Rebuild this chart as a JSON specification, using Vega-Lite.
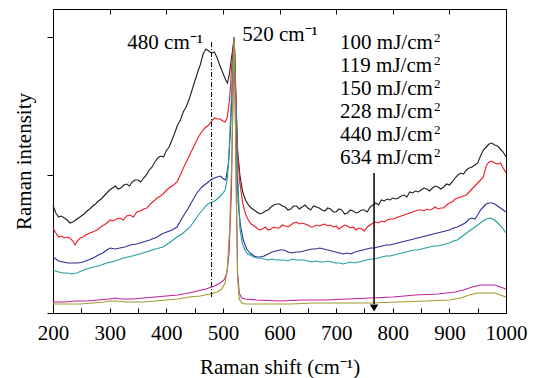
{
"$schema":"https://vega.github.io/schema/vega-lite/v6.json",
"width":453,"height":304,
"autosize":{"type":"none"},
"padding":{"left":53,"top":9,"right":28,"bottom":65},
"config":{"font":"serif","view":{"stroke":"black","strokeWidth":1},
"axis":{"domainColor":"black","tickColor":"black","labelColor":"black","titleColor":"black","labelFont":"serif","titleFont":"serif","labelFontSize":21,"titleFontSize":21,"titleFontWeight":"normal","grid":false}},
"resolve":{"axis":{"x":"independent","y":"independent"}},
"layer":[
{"data":{"values":[
{"s":"100","x":200,"y":108},{"s":"100","x":205,"y":100},{"s":"100","x":210,"y":96},{"s":"100","x":215,"y":97},{"s":"100","x":220,"y":95},{"s":"100","x":225,"y":93},{"s":"100","x":230,"y":90},{"s":"100","x":235,"y":91},{"s":"100","x":240,"y":93},{"s":"100","x":245,"y":95},{"s":"100","x":250,"y":97},{"s":"100","x":255,"y":99},{"s":"100","x":260,"y":102},{"s":"100","x":265,"y":104},{"s":"100","x":270,"y":107},{"s":"100","x":275,"y":109},{"s":"100","x":280,"y":112},{"s":"100","x":285,"y":114},{"s":"100","x":290,"y":117},{"s":"100","x":295,"y":120},{"s":"100","x":300,"y":123},{"s":"100","x":305,"y":125},{"s":"100","x":310,"y":127},{"s":"100","x":315,"y":124},{"s":"100","x":320,"y":125},{"s":"100","x":325,"y":128},{"s":"100","x":330,"y":129},{"s":"100","x":335,"y":127},{"s":"100","x":340,"y":131},{"s":"100","x":345,"y":133},{"s":"100","x":350,"y":133},{"s":"100","x":355,"y":131},{"s":"100","x":360,"y":135},{"s":"100","x":365,"y":138},{"s":"100","x":370,"y":143},{"s":"100","x":375,"y":146},{"s":"100","x":380,"y":151},{"s":"100","x":385,"y":155},{"s":"100","x":390,"y":157},{"s":"100","x":395,"y":156},{"s":"100","x":400,"y":162},{"s":"100","x":405,"y":166},{"s":"100","x":410,"y":173},{"s":"100","x":415,"y":180},{"s":"100","x":420,"y":188},{"s":"100","x":425,"y":193},{"s":"100","x":430,"y":201},{"s":"100","x":435,"y":206},{"s":"100","x":440,"y":213},{"s":"100","x":445,"y":222},{"s":"100","x":450,"y":231},{"s":"100","x":455,"y":240},{"s":"100","x":460,"y":248},{"s":"100","x":465,"y":259},{"s":"100","x":470,"y":264},{"s":"100","x":475,"y":262},{"s":"100","x":480,"y":260},{"s":"100","x":485,"y":261},{"s":"100","x":490,"y":255},{"s":"100","x":495,"y":247},{"s":"100","x":500,"y":240},{"s":"100","x":505,"y":233},{"s":"100","x":508,"y":230},{"s":"100","x":511,"y":237},{"s":"100","x":514,"y":250},{"s":"100","x":517,"y":262},{"s":"100","x":520,"y":276},{"s":"100","x":523,"y":213},{"s":"100","x":526,"y":163},{"s":"100","x":530,"y":138},{"s":"100","x":535,"y":121},{"s":"100","x":540,"y":113},{"s":"100","x":545,"y":108},{"s":"100","x":550,"y":105},{"s":"100","x":555,"y":103},{"s":"100","x":560,"y":101},{"s":"100","x":565,"y":99},{"s":"100","x":570,"y":100},{"s":"100","x":575,"y":102},{"s":"100","x":580,"y":103},{"s":"100","x":585,"y":106},{"s":"100","x":590,"y":108},{"s":"100","x":595,"y":109},{"s":"100","x":600,"y":109},{"s":"100","x":605,"y":107},{"s":"100","x":610,"y":106},{"s":"100","x":615,"y":103},{"s":"100","x":620,"y":104},{"s":"100","x":625,"y":107},{"s":"100","x":630,"y":107},{"s":"100","x":635,"y":104},{"s":"100","x":640,"y":106},{"s":"100","x":645,"y":108},{"s":"100","x":650,"y":105},{"s":"100","x":655,"y":103},{"s":"100","x":660,"y":107},{"s":"100","x":665,"y":106},{"s":"100","x":670,"y":105},{"s":"100","x":675,"y":103},{"s":"100","x":680,"y":102},{"s":"100","x":685,"y":105},{"s":"100","x":690,"y":104},{"s":"100","x":695,"y":101},{"s":"100","x":700,"y":101},{"s":"100","x":705,"y":104},{"s":"100","x":710,"y":103},{"s":"100","x":715,"y":99},{"s":"100","x":720,"y":100},{"s":"100","x":725,"y":103},{"s":"100","x":730,"y":102},{"s":"100","x":735,"y":100},{"s":"100","x":740,"y":101},{"s":"100","x":745,"y":103},{"s":"100","x":750,"y":103},{"s":"100","x":755,"y":101},{"s":"100","x":760,"y":106},{"s":"100","x":765,"y":108},{"s":"100","x":770,"y":110},{"s":"100","x":775,"y":108},{"s":"100","x":780,"y":113},{"s":"100","x":785,"y":112},{"s":"100","x":790,"y":114},{"s":"100","x":795,"y":113},{"s":"100","x":800,"y":115},{"s":"100","x":805,"y":114},{"s":"100","x":810,"y":115},{"s":"100","x":815,"y":117},{"s":"100","x":820,"y":118},{"s":"100","x":825,"y":116},{"s":"100","x":830,"y":121},{"s":"100","x":835,"y":120},{"s":"100","x":840,"y":122},{"s":"100","x":845,"y":121},{"s":"100","x":850,"y":123},{"s":"100","x":855,"y":125},{"s":"100","x":860,"y":124},{"s":"100","x":865,"y":122},{"s":"100","x":870,"y":125},{"s":"100","x":875,"y":127},{"s":"100","x":880,"y":126},{"s":"100","x":885,"y":124},{"s":"100","x":890,"y":126},{"s":"100","x":895,"y":129},{"s":"100","x":900,"y":128},{"s":"100","x":905,"y":131},{"s":"100","x":910,"y":135},{"s":"100","x":915,"y":138},{"s":"100","x":920,"y":140},{"s":"100","x":925,"y":139},{"s":"100","x":930,"y":143},{"s":"100","x":935,"y":145},{"s":"100","x":940,"y":146},{"s":"100","x":945,"y":148},{"s":"100","x":950,"y":150},{"s":"100","x":955,"y":157},{"s":"100","x":960,"y":163},{"s":"100","x":965,"y":166},{"s":"100","x":970,"y":169},{"s":"100","x":975,"y":170},{"s":"100","x":980,"y":168},{"s":"100","x":985,"y":167},{"s":"100","x":990,"y":164},{"s":"100","x":995,"y":161},{"s":"100","x":1000,"y":156},
{"s":"119","x":200,"y":85},{"s":"119","x":205,"y":80},{"s":"119","x":210,"y":76},{"s":"119","x":215,"y":77},{"s":"119","x":220,"y":75},{"s":"119","x":225,"y":76},{"s":"119","x":230,"y":75},{"s":"119","x":235,"y":72},{"s":"119","x":239,"y":68},{"s":"119","x":243,"y":72},{"s":"119","x":248,"y":75},{"s":"119","x":253,"y":76},{"s":"119","x":258,"y":78},{"s":"119","x":265,"y":80},{"s":"119","x":270,"y":81},{"s":"119","x":278,"y":83},{"s":"119","x":284,"y":86},{"s":"119","x":290,"y":88},{"s":"119","x":295,"y":90},{"s":"119","x":301,"y":93},{"s":"119","x":306,"y":92},{"s":"119","x":312,"y":94},{"s":"119","x":318,"y":95},{"s":"119","x":324,"y":93},{"s":"119","x":330,"y":97},{"s":"119","x":336,"y":98},{"s":"119","x":342,"y":96},{"s":"119","x":348,"y":101},{"s":"119","x":354,"y":102},{"s":"119","x":360,"y":104},{"s":"119","x":366,"y":105},{"s":"119","x":372,"y":109},{"s":"119","x":378,"y":112},{"s":"119","x":384,"y":115},{"s":"119","x":390,"y":117},{"s":"119","x":396,"y":120},{"s":"119","x":401,"y":123},{"s":"119","x":407,"y":126},{"s":"119","x":413,"y":128},{"s":"119","x":419,"y":131},{"s":"119","x":425,"y":138},{"s":"119","x":431,"y":146},{"s":"119","x":437,"y":153},{"s":"119","x":443,"y":160},{"s":"119","x":449,"y":167},{"s":"119","x":454,"y":173},{"s":"119","x":460,"y":179},{"s":"119","x":465,"y":183},{"s":"119","x":470,"y":186},{"s":"119","x":475,"y":188},{"s":"119","x":480,"y":192},{"s":"119","x":485,"y":195},{"s":"119","x":490,"y":194},{"s":"119","x":495,"y":194},{"s":"119","x":500,"y":192},{"s":"119","x":504,"y":191},{"s":"119","x":508,"y":196},{"s":"119","x":512,"y":215},{"s":"119","x":516,"y":250},{"s":"119","x":520,"y":276},{"s":"119","x":523,"y":220},{"s":"119","x":526,"y":160},{"s":"119","x":530,"y":130},{"s":"119","x":535,"y":110},{"s":"119","x":540,"y":99},{"s":"119","x":545,"y":93},{"s":"119","x":550,"y":89},{"s":"119","x":555,"y":87},{"s":"119","x":560,"y":85},{"s":"119","x":565,"y":83},{"s":"119","x":570,"y":84},{"s":"119","x":575,"y":86},{"s":"119","x":580,"y":83},{"s":"119","x":585,"y":84},{"s":"119","x":590,"y":86},{"s":"119","x":595,"y":85},{"s":"119","x":600,"y":85},{"s":"119","x":605,"y":88},{"s":"119","x":610,"y":87},{"s":"119","x":615,"y":86},{"s":"119","x":620,"y":88},{"s":"119","x":625,"y":90},{"s":"119","x":630,"y":91},{"s":"119","x":635,"y":89},{"s":"119","x":640,"y":90},{"s":"119","x":645,"y":89},{"s":"119","x":650,"y":88},{"s":"119","x":655,"y":86},{"s":"119","x":660,"y":86},{"s":"119","x":665,"y":88},{"s":"119","x":670,"y":87},{"s":"119","x":675,"y":88},{"s":"119","x":680,"y":89},{"s":"119","x":685,"y":87},{"s":"119","x":690,"y":88},{"s":"119","x":695,"y":86},{"s":"119","x":700,"y":87},{"s":"119","x":705,"y":84},{"s":"119","x":710,"y":86},{"s":"119","x":715,"y":88},{"s":"119","x":720,"y":87},{"s":"119","x":725,"y":85},{"s":"119","x":730,"y":86},{"s":"119","x":735,"y":83},{"s":"119","x":740,"y":85},{"s":"119","x":745,"y":84},{"s":"119","x":750,"y":82},{"s":"119","x":755,"y":86},{"s":"119","x":760,"y":88},{"s":"119","x":765,"y":90},{"s":"119","x":770,"y":91},{"s":"119","x":775,"y":90},{"s":"119","x":780,"y":92},{"s":"119","x":785,"y":91},{"s":"119","x":790,"y":93},{"s":"119","x":795,"y":94},{"s":"119","x":800,"y":94},{"s":"119","x":805,"y":95},{"s":"119","x":810,"y":96},{"s":"119","x":815,"y":97},{"s":"119","x":820,"y":98},{"s":"119","x":825,"y":99},{"s":"119","x":830,"y":100},{"s":"119","x":835,"y":101},{"s":"119","x":840,"y":102},{"s":"119","x":845,"y":103},{"s":"119","x":850,"y":103},{"s":"119","x":855,"y":102},{"s":"119","x":860,"y":104},{"s":"119","x":865,"y":103},{"s":"119","x":870,"y":104},{"s":"119","x":875,"y":106},{"s":"119","x":880,"y":104},{"s":"119","x":885,"y":105},{"s":"119","x":890,"y":105},{"s":"119","x":895,"y":108},{"s":"119","x":900,"y":110},{"s":"119","x":905,"y":111},{"s":"119","x":910,"y":114},{"s":"119","x":915,"y":115},{"s":"119","x":920,"y":116},{"s":"119","x":925,"y":117},{"s":"119","x":930,"y":118},{"s":"119","x":935,"y":121},{"s":"119","x":940,"y":124},{"s":"119","x":945,"y":127},{"s":"119","x":950,"y":130},{"s":"119","x":955,"y":133},{"s":"119","x":960,"y":136},{"s":"119","x":965,"y":147},{"s":"119","x":970,"y":151},{"s":"119","x":975,"y":152},{"s":"119","x":980,"y":150},{"s":"119","x":985,"y":149},{"s":"119","x":990,"y":150},{"s":"119","x":995,"y":145},{"s":"119","x":1000,"y":140},
{"s":"150","x":200,"y":56},{"s":"150","x":210,"y":52},{"s":"150","x":218,"y":51},{"s":"150","x":226,"y":50},{"s":"150","x":235,"y":50},{"s":"150","x":244,"y":50},{"s":"150","x":253,"y":51},{"s":"150","x":262,"y":53},{"s":"150","x":271,"y":55},{"s":"150","x":280,"y":58},{"s":"150","x":288,"y":60},{"s":"150","x":295,"y":63},{"s":"150","x":301,"y":65},{"s":"150","x":310,"y":64},{"s":"150","x":318,"y":65},{"s":"150","x":327,"y":66},{"s":"150","x":336,"y":68},{"s":"150","x":348,"y":69},{"s":"150","x":359,"y":71},{"s":"150","x":371,"y":73},{"s":"150","x":384,"y":76},{"s":"150","x":392,"y":79},{"s":"150","x":401,"y":81},{"s":"150","x":410,"y":83},{"s":"150","x":419,"y":86},{"s":"150","x":428,"y":95},{"s":"150","x":437,"y":103},{"s":"150","x":446,"y":112},{"s":"150","x":454,"y":120},{"s":"150","x":463,"y":126},{"s":"150","x":472,"y":130},{"s":"150","x":481,"y":134},{"s":"150","x":490,"y":136},{"s":"150","x":496,"y":137},{"s":"150","x":501,"y":134},{"s":"150","x":505,"y":133},{"s":"150","x":510,"y":150},{"s":"150","x":514,"y":190},{"s":"150","x":517,"y":235},{"s":"150","x":520,"y":276},{"s":"150","x":522,"y":230},{"s":"150","x":524,"y":170},{"s":"150","x":527,"y":110},{"s":"150","x":531,"y":88},{"s":"150","x":536,"y":73},{"s":"150","x":542,"y":64},{"s":"150","x":548,"y":60},{"s":"150","x":555,"y":57},{"s":"150","x":560,"y":56},{"s":"150","x":566,"y":56},{"s":"150","x":573,"y":57},{"s":"150","x":580,"y":59},{"s":"150","x":587,"y":61},{"s":"150","x":594,"y":62},{"s":"150","x":601,"y":63},{"s":"150","x":608,"y":63},{"s":"150","x":615,"y":61},{"s":"150","x":622,"y":60},{"s":"150","x":629,"y":61},{"s":"150","x":636,"y":61},{"s":"150","x":643,"y":62},{"s":"150","x":650,"y":63},{"s":"150","x":657,"y":64},{"s":"150","x":664,"y":64},{"s":"150","x":671,"y":65},{"s":"150","x":678,"y":64},{"s":"150","x":685,"y":63},{"s":"150","x":692,"y":62},{"s":"150","x":699,"y":61},{"s":"150","x":706,"y":60},{"s":"150","x":713,"y":59},{"s":"150","x":719,"y":60},{"s":"150","x":726,"y":59},{"s":"150","x":733,"y":61},{"s":"150","x":740,"y":62},{"s":"150","x":747,"y":63},{"s":"150","x":754,"y":64},{"s":"150","x":761,"y":65},{"s":"150","x":767,"y":65},{"s":"150","x":774,"y":66},{"s":"150","x":781,"y":67},{"s":"150","x":788,"y":68},{"s":"150","x":795,"y":68},{"s":"150","x":802,"y":69},{"s":"150","x":809,"y":70},{"s":"150","x":816,"y":71},{"s":"150","x":823,"y":72},{"s":"150","x":830,"y":73},{"s":"150","x":837,"y":74},{"s":"150","x":844,"y":75},{"s":"150","x":851,"y":76},{"s":"150","x":858,"y":77},{"s":"150","x":865,"y":78},{"s":"150","x":872,"y":79},{"s":"150","x":879,"y":80},{"s":"150","x":886,"y":81},{"s":"150","x":893,"y":82},{"s":"150","x":900,"y":83},{"s":"150","x":907,"y":85},{"s":"150","x":914,"y":86},{"s":"150","x":921,"y":88},{"s":"150","x":928,"y":90},{"s":"150","x":935,"y":94},{"s":"150","x":940,"y":95},{"s":"150","x":945,"y":94},{"s":"150","x":950,"y":98},{"s":"150","x":955,"y":103},{"s":"150","x":960,"y":106},{"s":"150","x":965,"y":109},{"s":"150","x":970,"y":110},{"s":"150","x":975,"y":110},{"s":"150","x":980,"y":109},{"s":"150","x":985,"y":107},{"s":"150","x":990,"y":105},{"s":"150","x":995,"y":103},{"s":"150","x":1000,"y":101},
{"s":"228","x":200,"y":43},{"s":"228","x":210,"y":41},{"s":"228","x":218,"y":40},{"s":"228","x":225,"y":40},{"s":"228","x":233,"y":39},{"s":"228","x":242,"y":40},{"s":"228","x":254,"y":43},{"s":"228","x":265,"y":45},{"s":"228","x":280,"y":47},{"s":"228","x":295,"y":50},{"s":"228","x":310,"y":52},{"s":"228","x":324,"y":55},{"s":"228","x":340,"y":57},{"s":"228","x":359,"y":60},{"s":"228","x":375,"y":63},{"s":"228","x":394,"y":66},{"s":"228","x":405,"y":70},{"s":"228","x":419,"y":76},{"s":"228","x":430,"y":80},{"s":"228","x":442,"y":86},{"s":"228","x":452,"y":94},{"s":"228","x":458,"y":99},{"s":"228","x":464,"y":103},{"s":"228","x":470,"y":107},{"s":"228","x":476,"y":110},{"s":"228","x":482,"y":111},{"s":"228","x":488,"y":113},{"s":"228","x":494,"y":116},{"s":"228","x":499,"y":119},{"s":"228","x":504,"y":123},{"s":"228","x":508,"y":135},{"s":"228","x":511,"y":160},{"s":"228","x":515,"y":215},{"s":"228","x":520,"y":276},{"s":"228","x":523,"y":210},{"s":"228","x":526,"y":140},{"s":"228","x":530,"y":85},{"s":"228","x":534,"y":70},{"s":"228","x":539,"y":63},{"s":"228","x":544,"y":59},{"s":"228","x":548,"y":58},{"s":"228","x":555,"y":56},{"s":"228","x":560,"y":55},{"s":"228","x":566,"y":55},{"s":"228","x":573,"y":54},{"s":"228","x":580,"y":53},{"s":"228","x":587,"y":54},{"s":"228","x":594,"y":53},{"s":"228","x":601,"y":53},{"s":"228","x":608,"y":53},{"s":"228","x":615,"y":52},{"s":"228","x":622,"y":54},{"s":"228","x":629,"y":53},{"s":"228","x":636,"y":53},{"s":"228","x":643,"y":53},{"s":"228","x":650,"y":52},{"s":"228","x":657,"y":51},{"s":"228","x":664,"y":52},{"s":"228","x":671,"y":51},{"s":"228","x":678,"y":51},{"s":"228","x":685,"y":52},{"s":"228","x":692,"y":51},{"s":"228","x":699,"y":50},{"s":"228","x":706,"y":50},{"s":"228","x":713,"y":49},{"s":"228","x":719,"y":50},{"s":"228","x":726,"y":51},{"s":"228","x":733,"y":50},{"s":"228","x":740,"y":51},{"s":"228","x":747,"y":52},{"s":"228","x":754,"y":53},{"s":"228","x":761,"y":54},{"s":"228","x":767,"y":54},{"s":"228","x":774,"y":55},{"s":"228","x":781,"y":56},{"s":"228","x":788,"y":57},{"s":"228","x":795,"y":57},{"s":"228","x":802,"y":58},{"s":"228","x":809,"y":59},{"s":"228","x":816,"y":60},{"s":"228","x":823,"y":61},{"s":"228","x":830,"y":62},{"s":"228","x":837,"y":63},{"s":"228","x":844,"y":63},{"s":"228","x":851,"y":64},{"s":"228","x":858,"y":65},{"s":"228","x":865,"y":66},{"s":"228","x":872,"y":67},{"s":"228","x":879,"y":67},{"s":"228","x":886,"y":68},{"s":"228","x":893,"y":69},{"s":"228","x":900,"y":70},{"s":"228","x":907,"y":72},{"s":"228","x":914,"y":73},{"s":"228","x":921,"y":76},{"s":"228","x":928,"y":79},{"s":"228","x":935,"y":82},{"s":"228","x":943,"y":85},{"s":"228","x":950,"y":88},{"s":"228","x":957,"y":91},{"s":"228","x":965,"y":94},{"s":"228","x":973,"y":95},{"s":"228","x":980,"y":93},{"s":"228","x":987,"y":89},{"s":"228","x":994,"y":85},{"s":"228","x":1000,"y":80},
{"s":"440","x":200,"y":11},{"s":"440","x":220,"y":11},{"s":"440","x":240,"y":12},{"s":"440","x":260,"y":12},{"s":"440","x":280,"y":13},{"s":"440","x":300,"y":14},{"s":"440","x":310,"y":15},{"s":"440","x":320,"y":14},{"s":"440","x":340,"y":14},{"s":"440","x":360,"y":15},{"s":"440","x":380,"y":16},{"s":"440","x":400,"y":17},{"s":"440","x":420,"y":18},{"s":"440","x":440,"y":20},{"s":"440","x":455,"y":22},{"s":"440","x":470,"y":24},{"s":"440","x":485,"y":27},{"s":"440","x":495,"y":30},{"s":"440","x":502,"y":33},{"s":"440","x":507,"y":40},{"s":"440","x":511,"y":60},{"s":"440","x":515,"y":120},{"s":"440","x":518,"y":220},{"s":"440","x":520,"y":276},{"s":"440","x":522,"y":200},{"s":"440","x":524,"y":110},{"s":"440","x":526,"y":40},{"s":"440","x":529,"y":20},{"s":"440","x":533,"y":15},{"s":"440","x":540,"y":14},{"s":"440","x":560,"y":13},{"s":"440","x":600,"y":12},{"s":"440","x":640,"y":13},{"s":"440","x":680,"y":13},{"s":"440","x":720,"y":14},{"s":"440","x":760,"y":15},{"s":"440","x":800,"y":16},{"s":"440","x":840,"y":18},{"s":"440","x":880,"y":19},{"s":"440","x":910,"y":21},{"s":"440","x":925,"y":23},{"s":"440","x":940,"y":26},{"s":"440","x":955,"y":28},{"s":"440","x":970,"y":28},{"s":"440","x":980,"y":28},{"s":"440","x":990,"y":26},{"s":"440","x":1000,"y":24},
{"s":"634","x":200,"y":9},{"s":"634","x":220,"y":9},{"s":"634","x":250,"y":9},{"s":"634","x":270,"y":10},{"s":"634","x":290,"y":11},{"s":"634","x":300,"y":12},{"s":"634","x":310,"y":12},{"s":"634","x":330,"y":11},{"s":"634","x":360,"y":11},{"s":"634","x":400,"y":13},{"s":"634","x":420,"y":14},{"s":"634","x":440,"y":16},{"s":"634","x":460,"y":17},{"s":"634","x":477,"y":19},{"s":"634","x":490,"y":21},{"s":"634","x":498,"y":24},{"s":"634","x":504,"y":30},{"s":"634","x":508,"y":45},{"s":"634","x":512,"y":85},{"s":"634","x":516,"y":160},{"s":"634","x":518,"y":230},{"s":"634","x":520,"y":276},{"s":"634","x":522,"y":200},{"s":"634","x":524,"y":110},{"s":"634","x":526,"y":35},{"s":"634","x":529,"y":14},{"s":"634","x":533,"y":10},{"s":"634","x":540,"y":9},{"s":"634","x":580,"y":9},{"s":"634","x":620,"y":9},{"s":"634","x":660,"y":10},{"s":"634","x":700,"y":10},{"s":"634","x":760,"y":10},{"s":"634","x":810,"y":11},{"s":"634","x":860,"y":12},{"s":"634","x":900,"y":13},{"s":"634","x":920,"y":15},{"s":"634","x":935,"y":18},{"s":"634","x":950,"y":20},{"s":"634","x":965,"y":20},{"s":"634","x":980,"y":20},{"s":"634","x":990,"y":18},{"s":"634","x":1000,"y":16}
]},
"mark":{"type":"line","strokeWidth":1.1},
"encoding":{
"x":{"field":"x","type":"quantitative","scale":{"domain":[200,1000],"nice":false,"zero":false},
"axis":{"orient":"bottom","values":[200,250,300,350,400,450,500,550,600,650,700,750,800,850,900,950,1000],"format":"d","labelExpr":"datum.value % 100 === 0 ? datum.label : ''","tickSize":-5,"labelPadding":14,"labelFlush":false,"labelOverlap":false,"title":"Raman shift (cm⁻¹)","titlePadding":13}},
"y":{"field":"y","type":"quantitative","scale":{"domain":[0,304],"nice":false},
"axis":{"values":[0,138,276],"labels":false,"tickSize":6,"title":"Raman intensity","titlePadding":12}},
"color":{"field":"s","type":"nominal","scale":{"domain":["100","119","150","228","440","634"],"range":["#231f20","#ed1c24","#2e3192","#1fa0a0","#c0229a","#a39a30"]},"legend":null}
}},
{"data":{"values":[{"x":480,"y":271,"y2":16}]},
"mark":{"type":"rule","color":"black","strokeWidth":1,"strokeDash":[5,2,1,2]},
"encoding":{"x":{"field":"x","type":"quantitative","axis":{"orient":"top","labels":false,"title":null,"tickSize":-5,"values":[300,400,500,600,700,800,900]}},
"y":{"field":"y","type":"quantitative","axis":null},"y2":{"field":"y2"}}},
{"data":{"values":[{"x":767,"y":140,"y2":9}]},
"mark":{"type":"rule","color":"black","strokeWidth":1.5},
"encoding":{"x":{"field":"x","type":"quantitative","axis":null},"y":{"field":"y","type":"quantitative","axis":null},"y2":{"field":"y2"}}},
{"data":{"values":[{"x":767,"y":5}]},
"mark":{"type":"point","shape":"triangle-down","filled":true,"size":70,"color":"black","opacity":1},
"encoding":{"x":{"field":"x","type":"quantitative","axis":null},"y":{"field":"y","type":"quantitative","axis":null}}},
{"data":{"values":[{"x":465,"y":264,"t":"480 cm⁻¹"}]},
"mark":{"type":"text","font":"serif","fontSize":21,"baseline":"alphabetic","align":"right","color":"black"},
"encoding":{"x":{"field":"x","type":"quantitative","axis":null},"y":{"field":"y","type":"quantitative","axis":null},"text":{"field":"t"}}},
{"data":{"values":[{"x":534,"y":272,"t":"520 cm⁻¹"}]},
"mark":{"type":"text","font":"serif","fontSize":21,"baseline":"alphabetic","align":"left","color":"black"},
"encoding":{"x":{"field":"x","type":"quantitative","axis":null},"y":{"field":"y","type":"quantitative","axis":null},"text":{"field":"t"}}},
{"data":{"values":[{"x":707,"y":264}]},
"mark":{"type":"text","font":"serif","fontSize":21,"baseline":"alphabetic","align":"left","color":"black","lineHeight":23,
"text":["100 mJ/cm","119 mJ/cm","150 mJ/cm","228 mJ/cm","440 mJ/cm","634 mJ/cm"]},
"encoding":{"x":{"field":"x","type":"quantitative","axis":null},"y":{"field":"y","type":"quantitative","axis":null}}},
{"data":{"values":[{"x":707,"y":264}]},
"mark":{"type":"text","font":"serif","fontSize":13,"baseline":"alphabetic","align":"left","color":"black","lineHeight":23,"dx":94,"dy":-7,
"text":["2","2","2","2","2","2"]},
"encoding":{"x":{"field":"x","type":"quantitative","axis":null},"y":{"field":"y","type":"quantitative","axis":null}}}
]
}
